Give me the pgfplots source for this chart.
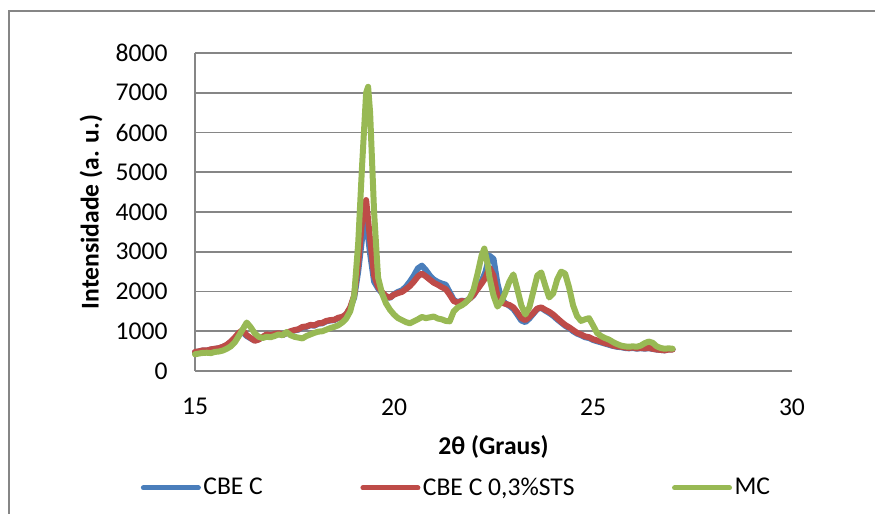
\documentclass[border=0pt]{standalone}
\usepackage{pgfplots}
\usepackage{pgfplotstable}
\usepackage{fontspec}
\setmainfont{Carlito}
\pgfplotsset{compat=1.18}

\definecolor{cbeblue}{HTML}{4A7EBB}
\definecolor{stsred}{HTML}{BE4B48}
\definecolor{mcgreen}{HTML}{98B954}
\definecolor{gridgray}{HTML}{868686}

% CBE C
\pgfplotstableread{
x y
15.0 470
15.1 490
15.2 515
15.3 510
15.4 540
15.5 555
15.6 570
15.7 605
15.8 650
15.9 730
16.0 830
16.1 940
16.2 980
16.3 880
16.4 820
16.5 770
16.6 800
16.7 850
16.8 910
16.9 890
17.0 920
17.1 940
17.2 900
17.3 950
17.4 990
17.5 1020
17.6 1040
17.7 1100
17.8 1110
17.9 1150
18.0 1140
18.1 1190
18.2 1200
18.3 1250
18.4 1270
18.5 1280
18.6 1330
18.7 1350
18.8 1420
18.9 1580
19.0 1850
19.1 2500
19.2 3350
19.3 3800
19.4 2950
19.5 2250
19.6 2080
19.7 1960
19.8 1870
19.9 1840
20.0 1930
20.1 1990
20.2 2030
20.3 2120
20.4 2250
20.5 2400
20.6 2580
20.7 2650
20.8 2540
20.9 2400
21.0 2300
21.1 2240
21.2 2200
21.3 2170
21.4 1980
21.5 1790
21.6 1730
21.7 1770
21.8 1750
21.9 1820
22.0 1910
22.1 2080
22.2 2250
22.3 2500
22.4 2900
22.5 2820
22.6 2200
22.7 1800
22.8 1700
22.9 1640
23.0 1560
23.1 1420
23.2 1270
23.3 1230
23.4 1320
23.5 1440
23.6 1560
23.7 1590
23.8 1520
23.9 1460
24.0 1390
24.1 1300
24.2 1220
24.3 1140
24.4 1080
24.5 1000
24.6 940
24.7 900
24.8 850
24.9 830
25.0 780
25.1 750
25.2 720
25.3 690
25.4 660
25.5 630
25.6 610
25.7 600
25.8 580
25.9 570
26.0 580
26.1 560
26.2 575
26.3 560
26.4 575
26.5 555
26.6 540
26.7 530
26.8 520
26.9 545
27.0 545
}\cbec

% CBE C 0,3%STS
\pgfplotstableread{
x y
15.0 480
15.1 495
15.2 520
15.3 515
15.4 545
15.5 560
15.6 575
15.7 610
15.8 660
15.9 740
16.0 840
16.1 960
16.2 1030
16.3 900
16.4 830
16.5 760
16.6 790
16.7 860
16.8 920
16.9 900
17.0 930
17.1 950
17.2 910
17.3 960
17.4 1000
17.5 1030
17.6 1050
17.7 1110
17.8 1120
17.9 1160
18.0 1150
18.1 1200
18.2 1210
18.3 1260
18.4 1280
18.5 1290
18.6 1340
18.7 1360
18.8 1430
18.9 1600
19.0 1900
19.1 2700
19.2 3800
19.3 4300
19.4 3300
19.5 2400
19.6 2120
19.7 1980
19.8 1880
19.9 1850
20.0 1920
20.1 1960
20.2 1990
20.3 2060
20.4 2140
20.5 2250
20.6 2380
20.7 2450
20.8 2380
20.9 2300
21.0 2220
21.1 2170
21.2 2110
21.3 2060
21.4 1920
21.5 1760
21.6 1720
21.7 1760
21.8 1740
21.9 1820
22.0 1920
22.1 2060
22.2 2200
22.3 2350
22.4 2600
22.5 2400
22.6 1880
22.7 1720
22.8 1690
22.9 1660
23.0 1600
23.1 1470
23.2 1330
23.3 1280
23.4 1360
23.5 1460
23.6 1570
23.7 1600
23.8 1540
23.9 1490
24.0 1420
24.1 1330
24.2 1240
24.3 1160
24.4 1100
24.5 1030
24.6 960
24.7 920
24.8 870
24.9 850
25.0 800
25.1 770
25.2 740
25.3 700
25.4 680
25.5 640
25.6 620
25.7 610
25.8 590
25.9 580
26.0 590
26.1 570
26.2 580
26.3 570
26.4 580
26.5 560
26.6 540
26.7 530
26.8 520
26.9 540
27.0 540
}\cbests

% MC
\pgfplotstableread{
x y
15.0 420
15.1 440
15.2 455
15.3 460
15.4 450
15.5 480
15.6 490
15.7 515
15.8 560
15.9 620
16.0 720
16.1 880
16.2 1050
16.3 1220
16.4 1100
16.5 950
16.6 860
16.7 830
16.8 860
16.9 850
17.0 880
17.1 920
17.2 900
17.3 980
17.4 900
17.5 860
17.6 840
17.7 820
17.8 880
17.9 920
18.0 960
18.1 990
18.2 1000
18.3 1040
18.4 1080
18.5 1110
18.6 1150
18.7 1220
18.8 1320
18.9 1500
19.0 1900
19.1 3200
19.2 5200
19.3 7000
19.35 7150
19.4 6500
19.5 4000
19.6 2350
19.7 1950
19.8 1700
19.9 1540
20.0 1420
20.1 1330
20.2 1280
20.3 1230
20.4 1200
20.5 1250
20.6 1300
20.7 1360
20.8 1330
20.9 1350
21.0 1370
21.1 1320
21.2 1300
21.3 1260
21.4 1250
21.5 1500
21.6 1600
21.7 1650
21.8 1720
21.9 1830
22.0 2050
22.1 2450
22.2 2900
22.27 3080
22.35 2700
22.4 2350
22.5 1900
22.6 1620
22.7 1750
22.8 1980
22.9 2250
23.0 2430
23.1 2050
23.2 1650
23.3 1420
23.4 1600
23.5 2000
23.6 2400
23.7 2480
23.8 2150
23.9 1850
24.0 1950
24.1 2300
24.2 2500
24.3 2450
24.4 2100
24.5 1650
24.6 1380
24.7 1260
24.8 1300
24.9 1330
25.0 1150
25.1 960
25.2 880
25.3 830
25.4 790
25.5 730
25.6 680
25.7 640
25.8 620
25.9 610
26.0 620
26.1 610
26.2 640
26.3 700
26.4 740
26.5 710
26.6 620
26.7 580
26.8 560
26.9 570
27.0 560
}\mc

\begin{document}
\begin{tikzpicture}
% outer chart frame (only its top and left edges fall inside the page)
\draw[gridgray, line width=0.6pt] (-93pt,-90pt) -- (-93pt,180pt) -- (360pt,180pt);
\begin{axis}[
  at={(0pt,0pt)}, anchor=origin,
  scale only axis,
  width=298.5pt, height=159pt,
  xmin=15, xmax=30, ymin=0, ymax=8000,
  xtick={15,20,25,30},
  ytick={0,1000,...,8000},
  major tick length=0pt,
  axis x line*=bottom, axis y line*=left,
  axis line style={draw=gridgray, line width=0.9pt},
  ymajorgrids,
  major grid style={draw=gridgray, line width=0.9pt},
  /pgf/number format/assume math mode=true,
  /pgf/number format/1000 sep={},
  scaled ticks=false,
  tick label style={font=\fontsize{12.8}{15}\selectfont, inner sep=0pt},
  yticklabel style={anchor=east, xshift=-13.5pt},
  xticklabel style={anchor=north, yshift=-13.5pt},
  xlabel={2θ (Graus)},
  ylabel={Intensidade (a. u.)},
  every axis x label/.style={at={(axis description cs:0.5,-0.239)}, anchor=center,
    font=\fontsize{12.8}{15}\selectfont\bfseries},
  every axis y label/.style={at={(axis description cs:-0.1742,0.5)}, anchor=center, rotate=90,
    font=\fontsize{12.8}{15}\selectfont\bfseries},
  legend columns=3,
  legend image code/.code={\draw[#1, line width=2.5pt, line cap=round] (0pt,0pt) -- (27.5pt,0pt);},
  legend style={at={(axis description cs:0,0)}, anchor=west, xshift=-27.25pt, yshift=-58.5pt,
    draw=none, fill=none, inner xsep=0pt, inner ysep=0pt,
    font=\fontsize{12.8}{15}\selectfont,
    nodes={inner xsep=1.25pt, inner ysep=1pt},
    /tikz/every even column/.append style={column sep=47.5pt}},
  clip=false,
]
\addplot[cbeblue, line width=3pt, line join=round, line cap=round] table[x=x, y=y] {\cbec};
\addlegendentry{CBE C}
\addplot[stsred, line width=3pt, line join=round, line cap=round] table[x=x, y=y] {\cbests};
\addlegendentry{CBE C 0,3\%STS}
\addplot[mcgreen, line width=3pt, line join=round, line cap=round] table[x=x, y=y] {\mc};
\addlegendentry{MC}
\end{axis}
\pgfresetboundingbox
\useasboundingbox (-97.5pt,-71.5pt) rectangle (340pt,185.5pt);
\end{tikzpicture}
\end{document}
